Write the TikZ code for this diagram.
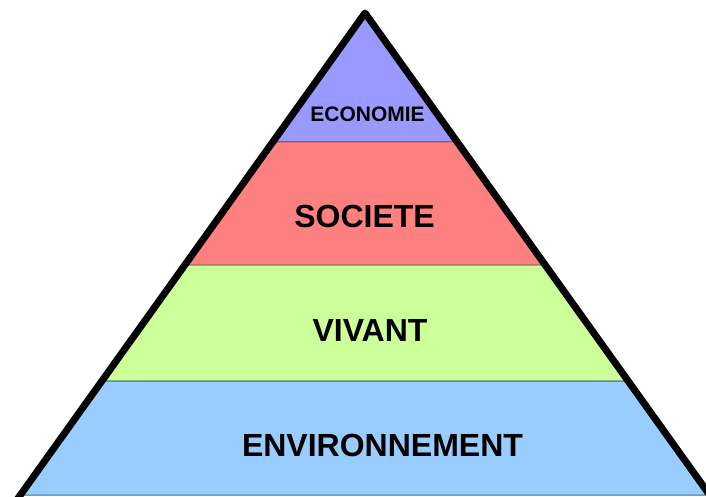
\documentclass[tikz,border=0pt]{standalone}
\usepackage{fontspec}
\setmainfont{Liberation Sans}
\definecolor{econ}{HTML}{9999FF}
\definecolor{soc}{HTML}{FF8080}
\definecolor{viv}{HTML}{CCFF99}
\definecolor{env}{HTML}{99CCFF}
\begin{document}
\begin{tikzpicture}[x=1pt,y=-1pt,
  layer/.style={line width=1pt},
  lbl/.style={anchor=base,inner sep=0pt,font=\bfseries\fontsize{32}{32}\selectfont},
  small/.style={anchor=base,inner sep=0pt,font=\bfseries\fontsize{21}{21}\selectfont}]
\useasboundingbox (0,0) rectangle (706,497);
\fill[white] (0,0) rectangle (706,497);
% layers
\filldraw[layer,fill=econ,draw=econ!60!black] (365,13) -- (457.2,142) -- (272.8,142) -- cycle;
\filldraw[layer,fill=soc,draw=soc!60!black] (272.8,142) -- (457.2,142) -- (545.2,265) -- (184.8,265) -- cycle;
\filldraw[layer,fill=viv,draw=viv!55!black] (184.8,265) -- (545.2,265) -- (628.1,381) -- (101.9,381) -- cycle;
\filldraw[layer,fill=env,draw=env!50!black] (101.9,381) -- (628.1,381) -- (709.6,495) -- (20.4,495) -- cycle;
% outline
\draw[line width=7pt,line join=round] (17.5,499) -- (365,13) -- (712.5,499);
% labels
\node[small] (economie) at (367.5,122) {ECONOMIE};
\node[lbl] (societe) at (364.5,227) {SOCIETE};
\node[lbl] (vivant) at (370,341) {VIVANT};
\node[lbl] (environnement) at (382.5,456) {ENVIRONNEMENT};
\end{tikzpicture}
\end{document}
